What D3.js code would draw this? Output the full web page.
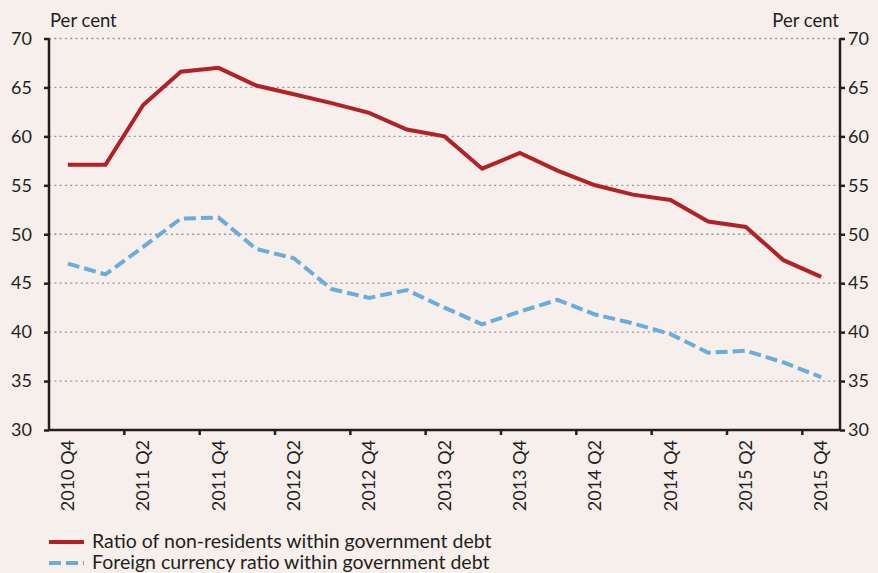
<!DOCTYPE html>
<html>
<head>
<meta charset="utf-8">
<script src="https://cdn.jsdelivr.net/npm/d3@7"></script>
<style>
  body { margin: 0; background: #f6efec; }
  svg { display: block; font-family: Lato, "Open Sans", sans-serif; }
</style>
</head>
<body>
<svg></svg>
<script>
// data
var quarters = ["2010 Q4","2011 Q1","2011 Q2","2011 Q3","2011 Q4","2012 Q1","2012 Q2","2012 Q3","2012 Q4",
  "2013 Q1","2013 Q2","2013 Q3","2013 Q4","2014 Q1","2014 Q2","2014 Q3","2014 Q4","2015 Q1","2015 Q2","2015 Q3","2015 Q4"]
var nonResidents = [57.1,57.1,63.2,66.6,67.0,65.2,64.3,63.4,62.4,60.7,60.0,56.7,58.3,56.5,55.0,54.05,53.5,51.3,50.75,47.35,45.65]
var foreignCurrency = [47.0,45.9,48.7,51.6,51.7,48.5,47.55,44.4,43.5,44.3,42.5,40.8,42.1,43.3,41.8,40.9,39.8,37.9,38.1,36.9,35.4]
var yTicks = [30,35,40,45,50,55,60,65,70]
var legendNames = ["Ratio of non-residents within government debt","Foreign currency ratio within government debt"]

var W = 878, H = 573
var mLeft = 49, mRight = 840, mTop = 38.5, mBottom = 430
var svg = d3.select('svg').attr('width', W).attr('height', H)

var x = d3.scaleBand().domain(quarters).range([mLeft, mRight])
var y = d3.scaleLinear().domain([30, 70]).range([mBottom, mTop])

var axisColor = '#231f20'

// 网格线
svg.append('g')
  .selectAll('line')
  .data(yTicks.filter(d => d > 30))
  .enter()
  .append('line')
  .attr('x1', mLeft).attr('x2', mRight)
  .attr('y1', d => y(d)).attr('y2', d => y(d))
  .attr('stroke', '#9a9594')
  .attr('stroke-width', 1.3)
  .attr('stroke-dasharray', '2,3.3')

// 左轴
var yAxisL = d3.axisLeft(y).tickValues(yTicks).tickSize(5).tickPadding(12)
var gL = svg.append('g').attr('transform', `translate(${mLeft},0)`).call(yAxisL)
// 右轴
var yAxisR = d3.axisRight(y).tickValues(yTicks).tickSize(5).tickPadding(3)
var gR = svg.append('g').attr('transform', `translate(${mRight},0)`).call(yAxisR)

;[gL, gR].forEach(function (g) {
  g.select('.domain').attr('stroke', axisColor).attr('stroke-width', 2.5)
    .attr('d', `M0,${mTop}V${mBottom}`)
  g.selectAll('.tick line').attr('stroke', axisColor).attr('stroke-width', 2.5)
  g.selectAll('.tick text').attr('fill', '#231f20').style('font-size', '18px')
    .style('font-family', 'Lato, sans-serif')
})

// x 轴
var xTickIdx = d3.range(0, quarters.length, 2)
var xg = svg.append('g')
xg.append('line')
  .attr('x1', mLeft - 1).attr('x2', mRight + 1)
  .attr('y1', mBottom).attr('y2', mBottom)
  .attr('stroke', axisColor).attr('stroke-width', 2.5)
xg.selectAll('line.tk')
  .data(xTickIdx.filter(i => i > 0))
  .enter()
  .append('line')
  .attr('class', 'tk')
  .attr('x1', i => x(quarters[i])).attr('x2', i => x(quarters[i]))
  .attr('y1', mBottom).attr('y2', mBottom + 5)
  .attr('stroke', axisColor).attr('stroke-width', 2.5)
xg.selectAll('text')
  .data(xTickIdx)
  .enter()
  .append('text')
  .attr('transform', i => `translate(${x(quarters[i]) + x.bandwidth() / 2 + 6},${mBottom + 10}) rotate(-90)`)
  .attr('text-anchor', 'end')
  .attr('fill', '#231f20')
  .style('font-size', '18px')
  .text(i => quarters[i])

// Per cent
svg.append('text').attr('x', mLeft + 1).attr('y', 27).attr('fill', '#231f20')
  .style('font-size', '18.5px').text('Per cent')
svg.append('text').attr('x', mRight - 1).attr('y', 27).attr('fill', '#231f20')
  .attr('text-anchor', 'end').style('font-size', '18.5px').text('Per cent')

// 折线
var line = d3.line()
  .x((d, i) => x(quarters[i]) + x.bandwidth() / 2)
  .y(d => y(d))

svg.append('path')
  .datum(foreignCurrency)
  .attr('d', line)
  .attr('fill', 'none')
  .attr('stroke', '#6aaddb')
  .attr('stroke-width', 4)
  .attr('stroke-dasharray', '12,5')

svg.append('path')
  .datum(nonResidents)
  .attr('d', line)
  .attr('fill', 'none')
  .attr('stroke', '#b22126')
  .attr('stroke-width', 4)

// 图例
var legendColors = ['#b22126', '#6aaddb']
var legendDash = [null, '12,5']
legendNames.forEach(function (name, i) {
  var ly = 542 + i * 21
  svg.append('line')
    .attr('x1', 49).attr('x2', 84)
    .attr('y1', ly).attr('y2', ly)
    .attr('stroke', legendColors[i])
    .attr('stroke-width', 4)
    .attr('stroke-dasharray', legendDash[i])
  svg.append('text')
    .attr('x', 92).attr('y', ly + 6)
    .attr('fill', '#231f20')
    .style('font-size', '19.5px')
    .text(name)
})
</script>
</body>
</html>
